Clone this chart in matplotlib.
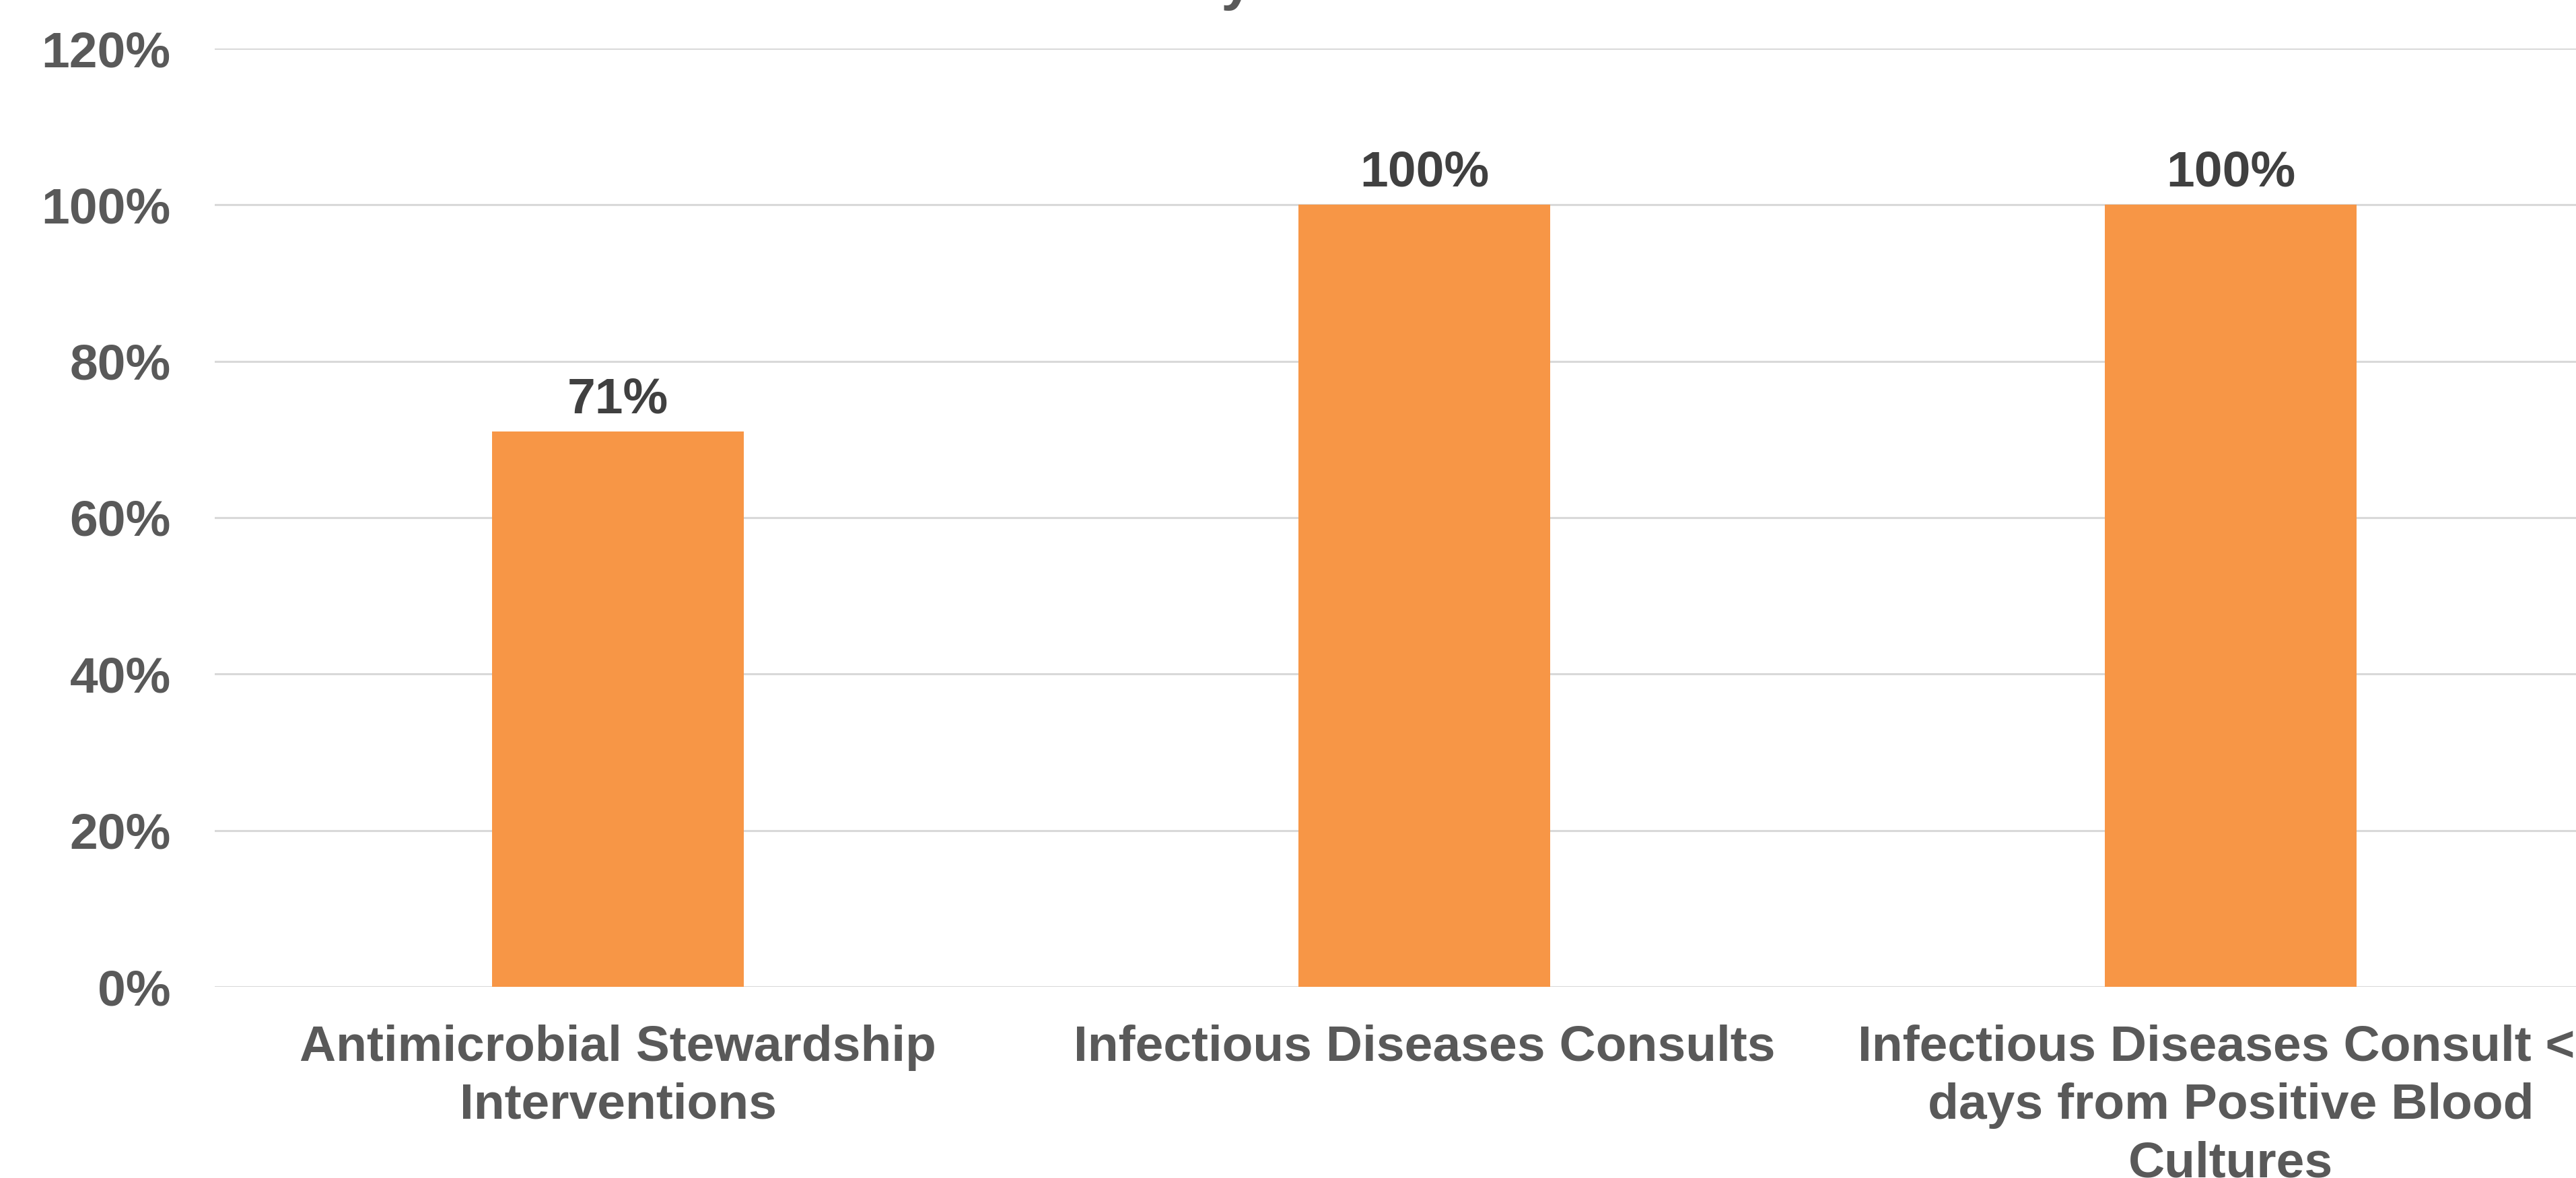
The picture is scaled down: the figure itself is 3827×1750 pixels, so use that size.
import matplotlib
matplotlib.use("Agg")
import matplotlib.pyplot as plt
from matplotlib.ticker import FuncFormatter

# Data
categories = [
    "Antimicrobial Stewardship\nInterventions",
    "Infectious Diseases Consults",
    "Infectious Diseases Consult <7\ndays from Positive Blood\nCultures",
]
values = [71, 100, 100]
y_ticks = [0, 20, 40, 60, 80, 100, 120]

BAR_COLOR = "#F79646"
TEXT_COLOR = "#595959"
LABEL_COLOR = "#404040"
GRID_COLOR = "#D9D9D9"

plt.rcParams["font.family"] = ["Liberation Sans", "DejaVu Sans"]
plt.rcParams["font.weight"] = "bold"

W, H, DPI = 3827, 1750, 100
fig = plt.figure(figsize=(W / DPI, H / DPI), dpi=DPI)
fig.patch.set_facecolor("white")

# Plot area extends past the right edge of the canvas
left_px, right_px = 319, 3913
bottom_px, top_px = 1466, 72
ax = fig.add_axes([left_px / W, 1 - bottom_px / H,
                   (right_px - left_px) / W, (bottom_px - top_px) / H])

x = list(range(len(categories)))
bars = ax.bar(x, values, width=0.313, color=BAR_COLOR, zorder=3)

ax.set_xlim(-0.5, len(categories) - 0.5)
ax.set_ylim(0, 120)
ax.set_yticks(y_ticks)
ax.yaxis.set_major_formatter(FuncFormatter(lambda v, p: f"{v:.0f}%"))
ax.grid(axis="y", color=GRID_COLOR, linewidth=2.2, zorder=0)
ax.set_axisbelow(True)

for s in ax.spines.values():
    s.set_visible(False)
ax.tick_params(axis="both", length=0, labelsize=54, labelcolor=TEXT_COLOR)
ax.tick_params(axis="y", pad=47)
ax.tick_params(axis="x", pad=40)
ax.set_xticks(x)
ax.set_xticklabels(categories, fontweight="bold", linespacing=1.32)
for lbl in ax.get_yticklabels():
    lbl.set_fontweight("bold")

for b, v in zip(bars, values):
    ax.annotate(f"{v}%", (b.get_x() + b.get_width() / 2, v),
                xytext=(0, 9), textcoords="offset points",
                ha="center", va="bottom", fontsize=54,
                fontweight="bold", color=LABEL_COLOR)

# Title sits above the visible canvas; only its descender shows
fig.text(1837 / W, 1 + 2 / H, "y", ha="center", va="baseline",
         fontsize=62, fontweight="bold", color=TEXT_COLOR)

fig.savefig("out.png", dpi=DPI, facecolor="white")
